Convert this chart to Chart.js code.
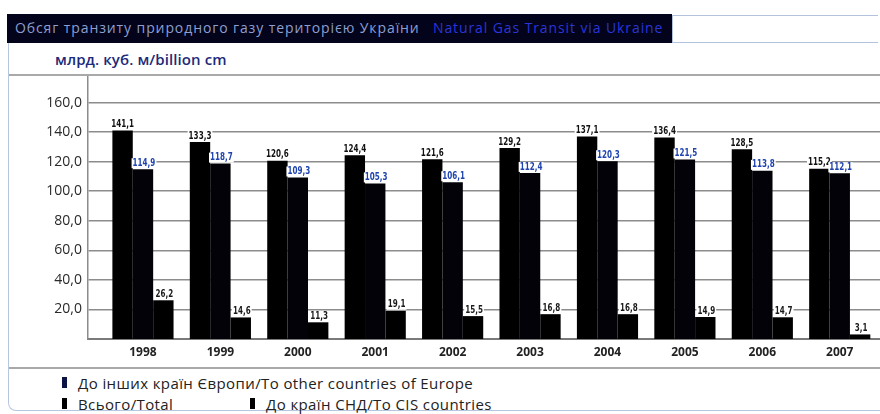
<!DOCTYPE html>
<html>
<head>
<meta charset="utf-8">
<script src="https://cdn.jsdelivr.net/npm/chart.js@4/dist/chart.umd.min.js"></script>
<style>
  html, body { margin: 0; padding: 0; background: #fff; width: 880px; height: 414px; overflow: hidden; }
  body { position: relative; font-family: 'Open Sans', 'Noto Sans', sans-serif; }
  #titlebar { position: absolute; left: 7px; top: 14px; width: 665px; height: 29px; background: #03031c; }
  #titlebar span { position: absolute; top: 5px; font-size: 14px; line-height: 18px; white-space: nowrap; letter-spacing: 0.9px; }
  #title-ua { left: 8px; color: #8d9fcf; }
  #title-en { left: 426px; color: #2a35d8; }
  #titlebox { position: absolute; left: 672px; top: 15px; width: 205px; height: 26px; border: 1px solid #b5c2de; border-right: none; background: #fff; }
  #frame { position: absolute; left: 8px; top: 43px; width: 880px; height: 367px; border-left: 1.5px solid #b7c6e0; border-bottom: 1.5px solid #b7c6e0; border-bottom-left-radius: 8px; }
  #unit { position: absolute; left: 55px; top: 49px; font-size: 15px; font-weight: 600; color: #1c2a7a; letter-spacing: 0.1px; white-space: nowrap; }
  .hline { position: absolute; left: 9px; width: 871px; height: 0; border-top: 2px solid #a9a9a9; }
  #chartwrap { position: absolute; left: 0; top: 76px; width: 880px; height: 292px; }
  .leg { position: absolute; font-size: 15px; color: #222; white-space: nowrap; line-height: 18px; letter-spacing: 0.4px; }
  .leg i { position: absolute; left: -16px; top: 3px; width: 5px; height: 11px; }
</style>
</head>
<body>
<div id="titlebar"><span id="title-ua">Обсяг транзиту природного газу територією України</span><span id="title-en">Natural Gas Transit via Ukraine</span></div>
<div id="titlebox"></div>
<div id="frame"></div>
<div id="unit">млрд. куб. м/billion cm</div>
<div class="hline" style="top:74px"></div>
<div class="hline" style="top:367px"></div>
<div id="chartwrap"><canvas id="c" width="880" height="292"></canvas></div>
<div id="legend"></div>
<script>
// Transit volumes, bcm
const years = ['1998', '1999', '2000', '2001', '2002', '2003', '2004', '2005', '2006', '2007'];
const totalTransit = [141.1, 133.3, 120.6, 124.4, 121.6, 129.2, 137.1, 136.4, 128.5, 115.2];
const europeTransit = [114.9, 118.7, 109.3, 105.3, 106.1, 112.4, 120.3, 121.5, 113.8, 112.1];
const cisTransit = [26.2, 14.6, 11.3, 19.1, 15.5, 16.8, 16.8, 14.9, 14.7, 3.1];
const yTickValues = [20, 40, 60, 80, 100, 120, 140, 160];

const seriesLabels = {
  total: 'Всього/Total',
  europe: 'До інших країн Європи/To other countries of Europe',
  cis: 'До країн СНД/To CIS countries'
};

const fmt = v => v.toFixed(1).replace('.', ',');

// value labels on white backing, drawn just above each bar
const valueLabels = {
  id: 'valueLabels',
  afterDatasetsDraw(chart) {
    const ctx = chart.ctx;
    ctx.save();
    ctx.font = 'bold 10px "DejaVu Sans", sans-serif';
    ctx.textAlign = 'center';
    ctx.textBaseline = 'middle';
    chart.data.datasets.forEach((ds, di) => {
      const meta = chart.getDatasetMeta(di);
      meta.data.forEach((bar, i) => {
        const txt = fmt(ds.data[i]);
        const sx = 0.72;
        const w = ctx.measureText(txt).width * sx + 2;
        const cx = bar.x + (ds.labelShift || 0);
        const cy = bar.y - 6;
        ctx.fillStyle = '#ffffff';
        ctx.fillRect(cx - w / 2, cy - 5, w, 10);
        ctx.save();
        ctx.translate(cx, cy);
        ctx.scale(sx, 1);
        ctx.fillStyle = ds.labelColor;
        ctx.fillText(txt, 0, 0);
        ctx.restore();
      });
    });
    ctx.restore();
  }
};

const datasets = [
  { label: seriesLabels.total, data: totalTransit, backgroundColor: '#000000', labelColor: '#111111', legendColor: '#000000' },
  { label: seriesLabels.europe, data: europeTransit, backgroundColor: '#020208', labelColor: '#1f44b0', legendColor: '#0c1446', labelShift: 1 },
  { label: seriesLabels.cis, data: cisTransit, backgroundColor: '#000000', labelColor: '#1a1a1a', legendColor: '#000000', labelShift: 1 }
];

new Chart(document.getElementById('c'), {
  type: 'bar',
  data: { labels: years, datasets },
  options: {
    responsive: false,
    devicePixelRatio: 1,
    animation: false,
    categoryPercentage: 0.79,
    barPercentage: 1.0,
    layout: { padding: { left: 0, right: 0, top: 0, bottom: 0 } },
    plugins: { legend: { display: false }, tooltip: { enabled: false } },
    scales: {
      x: {
        type: 'linear',
        min: 1998 - 0.71,
        max: 2007 + 0.52,
        offset: false,
        afterBuildTicks: s => { s.ticks = years.map(y => ({ value: +y })); },
        afterFit: s => { s.height = 29; s.paddingLeft = 0; s.paddingRight = 0; },
        grid: { display: false, drawTicks: false },
        border: { display: true, color: '#7a7a7a', width: 2 },
        ticks: { padding: 6, color: '#222', font: { family: 'Open Sans', size: 12, weight: 'bold' }, callback: v => String(v), maxRotation: 0, autoSkip: false }
      },
      y: {
        min: 0,
        max: 178,
        afterBuildTicks: s => { s.ticks = yTickValues.map(v => ({ value: v })); },
        afterFit: s => { s.width = 88; s.paddingTop = 0; s.paddingBottom = 0; },
        grid: { color: '#8c8c8c', lineWidth: 1.5, drawTicks: false },
        border: { display: true, color: '#8c8c8c', width: 1.5 },
        ticks: { padding: 6, color: '#2a2a2a', font: { family: 'Open Sans', size: 14 }, callback: v => fmt(v) }
      }
    }
  },
  plugins: [valueLabels]
});

// legend below the plot
const legendPlaces = [
  { ds: 1, left: 78, top: 374 },
  { ds: 0, left: 78, top: 395 },
  { ds: 2, left: 266, top: 395 }
];
const legendEl = document.getElementById('legend');
legendPlaces.forEach(p => {
  const d = datasets[p.ds];
  const el = document.createElement('div');
  el.className = 'leg';
  el.style.left = p.left + 'px';
  el.style.top = p.top + 'px';
  el.innerHTML = '<i style="background:' + d.legendColor + '"></i>' + d.label;
  legendEl.appendChild(el);
});
</script>
</body>
</html>
